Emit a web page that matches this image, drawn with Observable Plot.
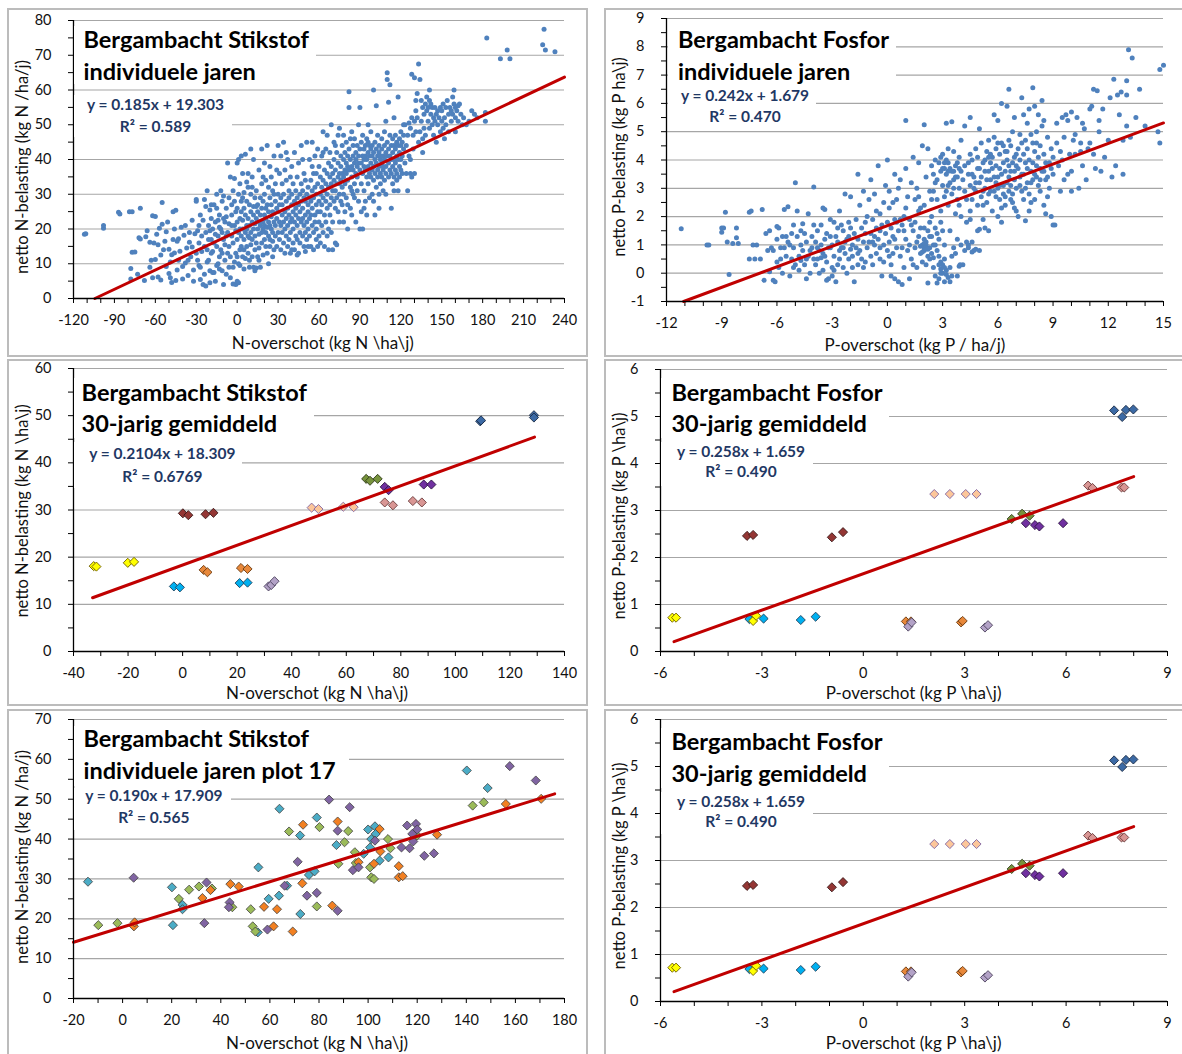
<!DOCTYPE html>
<html><head><meta charset="utf-8">
<script src="https://cdn.jsdelivr.net/npm/d3@7"></script>
<script src="https://cdn.jsdelivr.net/npm/@observablehq/plot@0.6"></script>
<style>
html,body{margin:0;padding:0;background:#fff;}
#page{position:relative;width:1182px;height:1054px;overflow:hidden;font-family:Lato,"Open Sans",sans-serif;}
.panel{position:absolute;box-sizing:border-box;border:2px solid #bcbcbc;background:#fff;}
.chart{position:absolute;}
.wbox{position:absolute;background:#fff;}
.title{position:absolute;font-weight:700;font-size:23.5px;line-height:32px;color:#000;white-space:nowrap;}
.eq{position:absolute;width:240px;text-align:center;font-weight:700;font-size:15.5px;line-height:21.7px;color:#1F3864;white-space:nowrap;}
.xt{position:absolute;width:400px;text-align:center;font-size:17px;line-height:20px;color:#111;white-space:nowrap;}
.yt{position:absolute;width:400px;text-align:center;font-size:16.5px;line-height:20px;color:#111;white-space:nowrap;transform:rotate(-90deg);}
</style></head>
<body><div id="page"></div>
<script>
// ---------------- DATA ----------------
// Panel 1: Bergambacht Stikstof individuele jaren  [N-overschot, netto N-belasting]
const nInd = [
[-112,18.5],[-111,18.6],[-98,20.2],[-98,21],[-87,24.8],[-86,24.3],[-79,25],[-77,25],[-71,26],[-78,8.6],[-77,13.3],[-75,13.4],[-78,5.6],[-73,7],[-72,17.5],[-71,17.1],[-68,5.2],[-64,9],[-63,11],[-62,6],[-64,16.2],[-61,16],[-62,23.8],[-60,23.6],[-59,18.5],[-58,15.5],[-57,20.2],[-56,5.3],[-55,21.4],[-55,27.6],[-56,12.5],[-58,6.2],[-53,16.5],[-52,19.2],[-50,14.2],[-50,7.2],[-49,6],[-48,12.6],[-47,17],[-47,25],[-45,25.4],[-46,20],[-44,8.2],[-46,13.1],[-45,5.2],[-48,4.6],[-52,9.2],[-51,22],[-43,17.2],[-42,13.6],[-41,20.5],[-40,9.2],[-40,5.6],[-38,10.2],[-37,14.5],[-36,6.6],[-35,16.2],[-35,19],[-34,12],[-33,22.5],[-32,8.2],[-31,18.6],[-32,5],[-44,16.5],[-39,18.2],[-36,11],[-33,14.8],[-49,10.5],[-54,14],[-66,19.5],[-60,11.2],[-67,17.8],[-43,11],[-38,21],
[-30,28.5],[-30,28],[-30,13],[-29,11],[-29,19.5],[-28,21],[-28,16],[-27,9],[-27,24],[-26,13.5],[-26,18],[-25,4],[-25,22.5],[-24,7],[-24,15],[-23,19],[-23,3.6],[-23,26.5],[-22,31],[-22,14],[-22,10.5],[-21,21],[-21,11],[-21,17],[-20,25.5],[-20,8],[-20,19.5],[-19,17],[-19,13],[-19,23],[-18,20],[-18,13.5],[-18,7.5],[-17,27],[-17,7.5],[-17,16],[-16,22],[-16,5],[-16,18.5],[-15,30],[-15,15],[-15,9.5],[-14,18],[-14,10],[-14,22.5],[-13,24],[-13,8.5],[-13,20.5],[-12,31],[-12,20],[-12,14],[-11,13],[-11,28],[-11,19],[-10,17],[-10,4],[-10,23],[-9,22],[-9,11],[-9,15.5],[-8,26],[-8,7],[-8,18],[-7,19],[-7,39],[-7,13],[-6,29],[-6,15],[-6,21.5],[-5,35],[-5,12],[-5,6],[-4,24],[-4,18],[-4,27],[-3,9],[-3,31],[-3,16],[-2,21],[-2,28],[-2,10.5],[-1,13],[-1,4],[-1,19.5],[-1,25],[-27,5.5],[-24,28.5],[-20,4.5],[-15,26],[-10,29.5],[-6,9],[-3,4.2],[-2,34.5],[-28,9.5],[-19,27],[-13,12],[-8,23.5],[-11,8],[-4,21],
[0,39],[0,26],[0,17],[0,5],[0,22],[0,12],[1,19],[1,10],[1,40],[1,30],[1,4.5],[2,33],[2,23],[2,20],[2,14],[3,15],[3,28],[3,18],[3,25],[4,36],[4,12],[4,20],[4,22.5],[5,30.5],[5,17],[5,26],[5,8.5],[6,19],[6,24],[6,11.5],[6,41.5],[7,21],[7,28],[7,15],[7,20],[8,13],[8,23],[8,32],[8,18],[9,27],[9,21],[9,11],[9,9],[10,43],[10,19],[10,25],[10,15.5],[10,30],[11,12],[11,22],[11,17],[11,35],[12,20],[12,26.5],[12,9],[12,24],[13,14],[13,18],[13,29],[13,21.5],[14,23],[14,16],[14,8.8],[14,31],[15,20],[15,25],[15,12],[15,27],[16,18.5],[16,22],[16,37],[16,14.5],[17,21],[17,29],[17,9],[17,24],[18,19],[18,16],[18,26],[18,33],[19,22],[19,20],[19,12.5],[19,28],[20,24],[20,17],[20,21],[20,39],[20,30],[21,15],[21,23],[21,26],[21,19],[22,44],[22,27],[22,20.5],[22,13],[23,22],[23,18],[23,32],[23,25],[24,17],[24,21],[24,29],[24,15],[25,23.5],[25,20],[25,35],[25,27],[26,19],[26,25],[26,16.5],[26,31],[27,22],[27,24.5],[27,14],[27,41],[28,28],[28,18],[28,21],[28,33],[29,26],[29,15],[29,23],[29,37],[30,19],[30,25],[30,30],[30,44],[11,32],[14,26.5],[5,14],[8,36],[2,9.5],[16,11],[19,35],[24,38],[27,30],[3,41],[7,33.5],[12,40],[18,43],[21,34],[26,12],[13,8],[4,29],[9,17.5],[23,10],
[31,17],[31,27],[31,22],[31,36],[32,21],[32,29],[32,14],[32,41],[33,24],[33,19],[33,33],[33,27],[34,16],[34,22],[34,30],[34,45],[35,25],[35,20],[35,37],[35,13],[36,28],[36,18],[36,23],[36,34],[37,15],[37,26],[37,21],[37,40],[38,29],[38,24],[38,17],[38,31],[39,22],[39,35],[39,19],[39,13],[40,27],[40,30],[40,23],[40,38],[41,16],[41,25],[41,20],[41,33],[42,28],[42,22],[42,14],[42,42],[43,31],[43,18],[43,26],[43,24],[44,35],[44,21],[44,17],[44,29],[45,23],[45,27],[45,13],[45,39],[46,30],[46,19],[46,25],[46,16],[47,33],[47,22],[47,28],[47,44],[48,26],[48,18],[48,31],[48,23],[49,21],[49,29],[49,36],[49,15],[50,28],[50,24],[50,19],[50,34],[51,30],[51,22],[51,45],[51,17],[52,25],[52,32],[52,27],[52,20],[53,18],[53,29],[53,40],[53,23],[54,34],[54,15],[54,28],[54,24],[55,21],[55,31],[55,45],[55,26],[56,19],[56,36],[56,29],[56,14],[57,24],[57,32],[57,22],[57,41],[58,27],[58,17],[58,30],[58,20],[59,33],[59,25],[59,15],[59,43],[60,22],[60,28],[60,38],[60,18],[36,42],[40,14],[44,12.5],[48,40],[52,15],[55,38],[58,36],[50,13.5],
[61,30],[61,25],[61,35],[61,16],[62,27],[62,41],[62,21],[62,32],[63,34],[63,19],[63,29],[63,48],[64,24],[64,37],[64,31],[64,15],[65,28],[65,33],[65,43],[65,22],[66,36],[66,26],[66,30],[66,47],[67,20],[67,39],[67,32],[67,14],[68,35],[68,27],[68,42],[68,24],[69,29],[69,38],[69,33],[69,50],[70,31],[70,22],[70,36],[70,14],[71,40],[71,28],[71,34],[71,45],[72,26],[72,37],[72,31],[72,16],[73,33],[73,29],[73,42],[73,15.5],[74,35],[74,25],[74,39],[74,47],[75,30],[75,36],[75,22],[75,33],[76,38],[76,28],[76,41],[76,34],[77,32],[77,44],[77,27],[77,36],[78,40],[78,30],[78,35],[78,47],[79,37],[79,25],[79,42],[79,33],[80,39],[80,29],[80,45],[80,36],[81,34],[81,41],[81,27],[81,38],[82,59.5],[82,55],[82,37],[82,43],[83,32],[83,40],[83,46],[83,26],[84,38],[84,35],[84,24],[84,48],[85,41],[85,30],[85,37],[85,44],[86,33],[86,39],[86,29],[86,46],[87,40],[87,36],[87,22],[87,42],[88,38],[88,44],[88,31],[88,35],[89,41],[89,28],[89,39],[89,50],[90,37],[90,43],[90,20],[90,55],[63,42],[66,18],[69,19],[72,44],[75,49],[78,22],[81,20],[84,31],
[91,39],[91,33],[91,45],[91,25],[92,41],[92,36],[92,20],[92,47],[93,38],[93,43],[93,31],[93,40],[94,44],[94,37],[94,28],[94,41],[95,40],[95,35],[95,46],[95,24],[96,42],[96,38],[96,33],[96,45],[97,36],[97,41],[97,29],[97,44],[98,39],[98,43],[98,35],[98,48],[99,41],[99,37],[99,30],[99,44],[100,42],[100,38],[100,60],[100,34],[101,40],[101,45],[101,36],[101,24],[102,43],[102,39],[102,55.5],[102,32],[103,37],[103,41],[103,47],[103,35],[104,42],[104,38],[104,30],[104,44],[105,40],[105,36],[105,41],[105,33],[106,43],[106,39],[106,35],[106,46],[107,37],[107,41],[107,31],[107,38],[108,40],[108,44],[108,34],[108,48],[109,38],[109,42],[109,36],[109,30],[110,65],[110,63],[110,41],[110,45],[111,56.5],[111,39],[111,43],[111,35],[112,61.5],[112,41],[112,37],[112,47],[113,26],[113,44],[113,40],[113,36],[114,42],[114,38],[114,46],[114,33],[115,40],[115,35],[115,44],[115,31],[116,43],[116,39],[116,47],[116,37],[117,41],[117,45],[117,36],[117,34],[118,58],[118,44],[118,40],[118,31],[119,42],[119,38],[119,46],[119,35],[120,44],[120,40],[120,37],[120,48],[96,50],[104,26],[109,51],[115,52],[100,28],[93,26],
[121,41],[121,45],[121,36],[122,43],[122,50],[122,47],[123,50],[123,39],[124,44],[124,36],[125,31],[125,47],[126,50.5],[126,41],[127,49],[127,36],[128,64.5],[128,35],[128,52],[129,47],[129,43],[130,63.5],[130,36],[130,51],[131,48],[131,54],[132,59],[132,52],[133,67.5],[133,45],[134,63],[134,48],[135,51],[135,57],[136,46],[136,55],[137,53],[137,49],[138,56],[138,47],[139,54],[139,58],[140,51],[140,55],[141,57],[141,49],[142,53],[142,56],[143,55],[143,50],[144,52],[144,47],[145,55],[145,51],[146,53],[147,50],[147,54],[148,52],[149,55],[149,48],[150,51],[150,54],[151,56],[151,49],[152,52],[153,55],[153,50],[154,57],[155,53],[155,48],[156,55],[157,51],[157,54],[158,58],[158,53],[159,56],[159,60],[160,55],[160,52],[160,48],[161,54],[162,55.5],[162,51],[163,56],[164,53],[165,50],[166,52],[168,50],[170,51],[172,54],[174,53],[127,40],[131,57],[136,42],[141,60],[146,45],[152,46],
[176,52],[182,51],[182,53.5],[183,75],[193,69],[198,71.5],[200,69],[225,77.5],[224,73],[226,71.5],[233,71]
];

// Panel 2: Bergambacht Fosfor individuele jaren [P-overschot, netto P-belasting]
const pInd = [
[-11.2,1.57],[-9.8,1.0],[-9.7,1.0],[-9.0,1.6],[-9.0,1.45],[-8.9,1.6],[-8.8,2.15],[-8.7,1.1],[-8.6,-0.05],[-8.2,1.6],[-8.2,1.25],[-8.1,1.05],[-8.4,1.05],[-7.5,2.15],[-7.4,2.2],[-7.3,1.0],[-7.1,1.0],[-7.5,0.5],[-7.2,0.5],[-6.9,0.5],[-6.8,2.25],[-6.7,-0.25],[-6.4,1.5],[-6.3,0.9],[-6.2,-0.25],[-6.1,-0.3],[-6.0,0.4],[-5.9,1.6],[-5.8,0.9],[-5.7,1.3],[-5.6,2.25],[-5.4,2.35],[-5.3,1.0],[-5.2,0.5],[-5.1,1.7],[-5.0,3.2],[-4.8,0.6],[-4.7,1.0],[-4.6,1.75],[-4.5,0.3],[-4.4,-0.2],[-4.3,2.1],[-4.2,0.8],[-4.1,1.3],[-4.0,3.05],[-4.0,0.5],
[-6.6,1.4],[-6.5,0.8],[-6.0,1.2],[-5.9,0.2],[-5.6,0.9],[-5.5,0.6],[-5.4,1.1],[-5.2,1.4],[-5.0,0.3],[-4.9,1.3],[-4.8,0.1],[-4.6,0.8],[-4.5,1.4],[-4.3,0.6],[-4.2,0.0],[-4.1,0.9],[-6.2,0.8],[-5.7,0.0],[-5.1,0.9],[-4.7,0.45],[-4.4,1.1],[-6.4,0.05],[-5.3,-0.1],[-4.9,2.2],[-6.0,1.65],
[-5.8,0.5],[-5.5,1.3],[-5.1,0.2],[-4.7,1.5],[-4.4,0.5],[-4.0,1.7],[-3.8,0.9],[-3.4,0.6],[-3.1,1.3],[-2.6,0.8],[-2.3,1.1],[-2.1,1.8],[-1.9,0.2],[-1.6,0.7],[-1.2,1.4],[-0.7,1.3],[-0.4,0.9],[0.1,0.6],[0.4,1.2],[0.7,1.9],
[-3.9,0.3],[-3.9,1.1],[-3.8,1.5],[-3.8,0.5],[-3.7,0.0],[-3.7,0.8],[-3.6,1.0],[-3.6,1.7],[-3.5,0.7],[-3.5,0.1],[-3.4,2.25],[-3.4,1.2],[-3.3,1.4],[-3.3,0.4],[-3.2,-0.2],[-3.2,0.9],[-3.1,0.9],[-3.1,1.9],[-3.0,0.2],[-3.0,1.0],[-3.0,-0.1],[-2.9,1.8],[-2.9,0.6],[-2.8,-0.3],[-2.8,1.3],[-2.7,1.1],[-2.7,0.3],[-2.6,0.5],[-2.6,2.2],[-2.5,1.7],[-2.5,0.9],[-2.4,0.9],[-2.4,1.5],[-2.3,2.8],[-2.3,0.7],[-2.2,0.0],[-2.2,1.2],[-2.1,1.3],[-2.1,0.5],[-2.0,2.7],[-2.0,1.6],[-1.9,0.6],[-1.9,1.0],[-1.8,-0.3],[-1.8,1.4],[-1.7,1.9],[-1.7,0.9],[-1.6,3.5],[-1.6,1.2],[-1.5,0.8],[-1.5,2.4],[-1.4,1.6],[-1.4,0.5],[-1.3,2.9],[-1.3,1.1],[-1.2,0.4],[-1.2,1.8],[-1.1,2.0],[-1.1,0.9],[-1.0,1.1],[-1.0,2.6],[-3.5,2.3],[-2.9,0.1],[-3.3,-0.25],[-2.4,0.2],[-1.6,0.3],[-3.6,0.55],[-2.0,0.85],[-1.3,0.2],[-2.7,1.6],
[-0.9,3.3],[-0.9,1.4],[-0.8,0.3],[-0.8,1.9],[-0.7,1.0],[-0.7,2.8],[-0.6,1.6],[-0.6,0.7],[-0.5,3.8],[-0.5,1.2],[-0.4,2.1],[-0.4,0.5],[-0.3,1.7],[-0.3,-0.1],[-0.2,1.0],[-0.2,2.5],[-0.1,3.1],[-0.1,1.4],[0.0,4.0],[0.0,1.8],[0.0,0.8],[0.1,1.1],[0.1,2.9],[0.2,1.6],[0.2,0.3],[0.3,2.5],[0.3,1.3],[0.4,-0.2],[0.4,1.9],[0.5,0.9],[0.5,2.6],[0.6,1.5],[0.6,-0.3],[0.7,0.6],[0.7,3.3],[0.8,1.7],[0.8,-0.4],[0.9,2.0],[0.9,0.2],[1.0,5.4],[1.0,1.2],[1.0,3.7],[-0.6,2.2],[-0.2,0.4],[0.3,0.7],[0.5,1.8],[0.8,0.9],[-0.9,0.6],[0.1,2.3],[0.6,3.0],[-0.4,1.5],[0.2,-0.1],[0.9,1.5],[0.4,3.5],[-0.8,1.1],
[1.1,0.8],[1.1,2.7],[1.2,1.9],[1.2,-0.2],[1.3,3.2],[1.3,0.5],[1.4,1.5],[1.4,4.1],[1.5,0.9],[1.5,2.6],[1.6,3.0],[1.6,0.2],[1.7,1.3],[1.7,3.9],[1.8,0.7],[1.8,2.3],[1.9,1.0],[1.9,4.5],[2.0,0.8],[2.0,5.25],[2.0,1.2],[2.0,0.9],[2.1,1.1],[2.1,3.4],[2.1,0.3],[2.2,0.6],[2.2,1.5],[2.2,-0.35],[2.3,0.9],[2.3,2.9],[2.3,1.3],[2.4,0.7],[2.4,3.8],[2.4,2.0],[2.5,1.0],[2.5,0.2],[2.5,3.5],[2.6,1.6],[2.6,4.0],[2.6,-0.1],[2.7,0.8],[2.7,2.6],[2.7,3.3],[2.8,1.2],[2.8,3.9],[2.8,-0.2],[2.9,0.4],[2.9,3.6],[2.9,1.8],[3.0,0.0],[3.0,4.2],[3.0,3.1],[3.0,0.3],[3.1,-0.3],[3.1,3.7],[3.1,1.0],[3.2,5.3],[3.2,3.5],[3.2,0.1],[3.2,4.0],[3.3,-0.15],[3.3,2.4],[3.3,3.9],[3.4,0.2],[3.4,3.2],[3.4,1.5],[3.5,5.35],[3.5,3.6],[3.5,-0.1],[3.5,2.8],[3.6,0.9],[3.6,3.3],[3.6,4.3],[3.7,0.7],[3.7,3.8],[3.7,2.1],[3.8,-0.1],[3.8,3.4],[3.8,1.2],[3.9,0.25],[3.9,3.0],[3.9,4.1],[4.0,1.0],[4.0,2.0],[4.0,3.6],[1.5,1.8],[1.9,0.4],[2.3,0.5],[2.6,1.0],[2.9,0.0],[3.1,0.5],[3.4,-0.3],[2.0,2.4],[2.5,2.9],[3.0,3.7],[3.6,3.0],[1.2,1.0],[1.7,2.2],[2.8,0.6],[3.3,4.4],[2.2,4.4],[1.4,0.3],[2.7,-0.35],[3.0,1.5],[3.8,3.9],[2.1,0.9],[2.4,1.3],[1.8,1.6],[3.5,0.6],[3.9,2.4],[1.9,0.75],[2.1,1.0],[2.2,0.85],[2.0,1.05],[1.8,0.95],[2.9,0.15],[3.1,0.2],[3.2,-0.05],[2.8,0.3],[3.3,3.6],[3.1,3.9],
[1.3,1.7],[1.6,1.1],[2.0,1.6],[2.3,1.8],[2.5,0.55],[2.7,1.4],[2.9,2.2],[3.1,2.7],[3.3,3.1],[3.4,3.7],[3.6,3.6],[3.7,3.4],[3.9,3.7],[2.6,3.2],[2.9,4.1],[3.2,2.9],[1.7,2.7],[1.0,2.3],[2.4,2.6],[3.8,2.6],
[4.1,0.3],[4.1,3.3],[4.2,0.8],[4.2,5.2],[4.2,3.8],[4.3,2.6],[4.3,1.8],[4.4,1.0],[4.4,3.5],[4.5,5.5],[4.5,3.1],[4.5,2.2],[4.6,1.1],[4.6,4.0],[4.7,3.4],[4.7,0.8],[4.8,2.9],[4.8,4.4],[4.9,3.7],[4.9,1.5],[5.0,0.8],[5.0,3.2],[5.0,1.55],[5.1,4.6],[5.1,2.7],[5.2,3.9],[5.2,1.9],[5.3,1.6],[5.3,3.0],[5.4,4.3],[5.4,2.5],[5.5,3.6],[5.5,4.7],[5.6,2.9],[5.6,3.3],[5.7,4.1],[5.7,2.2],[5.8,3.4],[5.8,4.8],[5.9,2.7],[5.9,3.8],[6.0,5.4],[6.0,3.0],[6.0,2.0],[6.1,4.2],[6.1,2.6],[6.2,3.5],[6.2,4.6],[6.3,2.8],[6.3,3.9],[6.4,4.3],[6.4,2.4],[6.5,5.9],[6.5,3.2],[6.5,4.0],[6.6,6.5],[6.6,2.9],[6.7,3.6],[6.7,4.5],[6.8,2.5],[6.8,5.0],[6.9,3.3],[6.9,4.1],[7.0,3.8],[7.0,2.2],[7.1,2.0],[7.1,4.4],[7.2,3.1],[7.2,4.9],[7.3,6.2],[7.3,3.5],[7.4,2.6],[7.4,4.2],[7.5,1.85],[7.5,3.9],[7.5,4.7],[7.6,3.2],[7.6,5.3],[7.7,2.8],[7.7,4.0],[7.8,3.6],[7.8,4.9],[7.9,6.55],[7.9,3.3],[8.0,5.9],[8.0,4.3],[8.0,2.6],[8.1,3.8],[8.1,5.0],[8.2,5.6],[8.2,3.1],[8.3,4.5],[8.3,2.9],[8.4,6.1],[8.4,3.6],[8.5,4.2],[8.5,2.4],[8.6,3.3],[8.7,4.8],[8.7,2.7],[8.8,3.9],[8.9,2.0],[8.9,4.4],[9.0,1.7],[9.0,3.5],[4.4,0.9],[4.6,0.75],[4.8,0.85],[4.3,1.1],[3.95,0.3],[5.5,1.5],[6.2,1.8],[4.0,4.7],[5.0,5.1],[5.8,5.6],[6.9,5.5],[7.7,5.8],[8.5,5.4],[6.3,3.1],[6.6,3.4],[7.0,3.0],[7.3,2.9],[7.9,3.9],[8.2,4.1],[5.3,3.6],[5.6,4.2],[6.1,3.7],[6.8,3.9],[7.6,4.4],[4.9,2.4],[5.2,2.9],[6.4,2.7],[7.4,3.5],[8.6,3.9],[4.7,3.0],[5.9,3.2],[6.7,2.6],[7.1,3.7],[8.1,3.4],[5.4,3.3],[6.0,4.6],[6.9,2.3],[7.8,2.5],[8.8,3.0],[4.6,2.6],[5.7,3.7],[6.5,4.3],[7.2,4.0],[8.3,3.7],[6.2,6.0],[7.4,5.6],[8.6,2.1],[9.1,1.7],[4.5,4.2],
[4.2,2.9],[4.4,3.9],[4.6,3.5],[4.8,3.2],[5.0,3.7],[5.1,3.4],[5.3,4.0],[5.5,2.8],[5.6,3.9],[5.8,2.9],[5.9,4.4],[6.0,3.4],[6.1,3.1],[6.3,4.5],[6.4,3.6],[6.6,3.8],[6.7,3.1],[6.9,3.6],[7.0,4.2],[7.2,3.4],[7.3,4.6],[7.5,3.0],[7.6,3.7],[7.8,3.2],[8.0,3.5],[8.1,4.6],[8.3,3.3],[8.5,3.6],[8.7,3.4],[8.9,3.7],[9.0,4.1],[6.2,2.3],[6.8,2.8],[7.7,2.2],[5.2,2.4],[4.5,1.9],[4.9,4.1],[5.5,4.1],[6.6,4.7],[7.9,4.6],[8.4,5.2],
[9.2,5.3],[9.3,3.8],[9.4,4.3],[9.5,5.5],[9.6,3.3],[9.7,5.6],[9.8,5.4],[9.9,4.2],[10.0,5.7],[10.0,3.6],[10.0,2.9],[10.1,4.7],[10.2,4.9],[10.3,5.5],[10.4,3.0],[10.5,4.6],[10.5,4.3],[10.6,3.8],[10.7,5.1],[10.9,4.4],[11.0,5.8],[11.1,5.9],[11.2,6.5],[11.4,6.45],[11.5,5.4],[11.2,4.2],[11.3,3.7],[11.5,5.0],[11.6,3.6],[11.8,4.1],[12.0,4.7],[12.1,6.2],[12.3,6.85],[12.5,6.3],[12.2,3.4],[12.4,3.8],[12.7,6.4],[13.0,6.8],[13.0,6.3],[13.0,5.2],[13.1,7.9],[13.3,7.6],[13.2,4.8],[12.8,4.7],[12.8,3.5],[13.7,6.5],[14.0,5.2],[14.7,5.0],[14.8,4.6],[14.8,7.2],[15.0,7.35],[9.6,4.8],[10.8,3.3],[9.4,2.9],
[9.2,4.6],[9.5,4.0],[9.8,3.5],[10.2,4.2],[10.6,5.3],[11.0,4.6],[11.7,5.8],[12.6,5.6],[13.5,5.5]
];

// Panel 3: Stikstof 30-jarig gemiddeld [x, y, groep]
const n30 = [
[-3.2,13.8,"b"],[-1.0,13.6,"b"],[20.9,14.5,"b"],[23.8,14.6,"b"],
[-32.6,18.1,"a"],[-31.6,18.0,"a"],[-20.1,18.8,"a"],[-17.8,19.0,"a"],
[0.1,29.3,"c"],[2.1,28.9,"c"],[8.4,29.1,"c"],[11.3,29.4,"c"],
[7.7,17.3,"d"],[9.1,16.8,"d"],[21.4,17.7,"d"],[23.8,17.5,"d"],
[31.5,13.8,"e"],[32.5,14.1,"e"],[33.7,14.9,"e"],
[47.3,30.5,"f"],[49.8,30.2,"f"],[58.9,30.7,"f"],[62.7,30.6,"f"],
[67.3,36.6,"g"],[68.7,36.2,"g"],[71.5,36.6,"g"],
[74.1,31.6,"i"],[77.1,31.0,"i"],[84.4,31.9,"i"],[87.7,31.6,"i"],
[74.1,34.9,"h"],[75.5,34.2,"h"],[88.4,35.4,"h"],[91.2,35.4,"h"],
[109.1,48.8,"j"],[109.4,49.0,"j"],[128.8,50.1,"j"],[128.8,49.6,"j"]
];

// Panels 4 and 6: Fosfor 30-jarig gemiddeld [x, y, groep]
const p30 = [
[-3.37,0.69,"b"],[-2.95,0.70,"b"],[-1.85,0.67,"b"],[-1.41,0.74,"b"],
[-5.65,0.72,"a"],[-5.54,0.72,"a"],[-3.26,0.65,"a"],[-3.17,0.76,"a"],
[-3.44,2.46,"c"],[-3.26,2.48,"c"],[-0.93,2.43,"c"],[-0.60,2.54,"c"],
[1.26,0.64,"d"],[1.41,0.64,"d"],[2.89,0.62,"d"],[2.94,0.65,"d"],
[1.33,0.53,"e"],[1.43,0.62,"e"],[3.60,0.51,"e"],[3.69,0.56,"e"],
[2.10,3.35,"f"],[2.56,3.35,"f"],[3.03,3.35,"f"],[3.35,3.35,"f"],
[4.39,2.82,"g"],[4.70,2.93,"g"],[4.92,2.89,"g"],
[4.81,2.73,"h"],[5.08,2.69,"h"],[5.21,2.66,"h"],[5.91,2.73,"h"],
[6.65,3.53,"i"],[6.78,3.48,"i"],[7.64,3.49,"i"],[7.72,3.49,"i"],
[7.42,5.13,"j"],[7.66,4.99,"j"],[7.77,5.14,"j"],[7.99,5.15,"j"]
];

// Panel 5: Stikstof individuele jaren plot 17 [x, y, reeks]
const n17 = [
[-14.1,29.3,"t"],[20.1,27.9,"t"],[20.5,18.4,"t"],[24.4,23.5,"t"],[24.4,22.4,"t"],[55.1,16.6,"t"],[55.3,32.9,"t"],[59.5,25.0,"t"],[63.7,25.8,"t"],[63.9,47.6,"t"],[67.0,28.3,"t"],[72.3,40.9,"t"],[72.4,21.2,"t"],[75.9,31.0,"t"],[78.2,31.9,"t"],[79.1,45.4,"t"],[87.1,38.5,"t"],[98.2,36.3,"t"],[100.0,42.4,"t"],[101.3,40.0,"t"],[102.8,43.2,"t"],[103.1,41.3,"t"],[104.7,34.6,"t"],[108.3,35.4,"t"],[140.2,57.2,"t"],[148.7,52.8,"t"],[100.8,37.9,"t"],
[-9.9,18.4,"g"],[-2.1,18.9,"g"],[22.9,25.0,"g"],[27.1,27.3,"g"],[31.1,28.1,"g"],[36.4,27.6,"g"],[44.7,22.9,"g"],[52.2,22.4,"g"],[53.0,18.1,"g"],[54.1,16.8,"g"],[67.8,41.9,"g"],[80.2,43.0,"g"],[79.1,23.1,"g"],[87.9,33.8,"g"],[90.4,39.2,"g"],[91.9,42.0,"g"],[94.6,36.7,"g"],[95.0,34.0,"g"],[100.8,32.9,"g"],[101.3,30.4,"g"],[102.4,30.0,"g"],[108.1,40.0,"g"],[109.1,37.7,"g"],[120.0,40.9,"g"],[142.6,48.4,"g"],[147.1,49.2,"g"],
[4.6,18.1,"o"],[4.9,19.1,"o"],[32.5,25.2,"o"],[35.8,27.2,"o"],[43.9,28.7,"o"],[47.3,28.1,"o"],[57.6,23.0,"o"],[61.5,18.1,"o"],[62.9,22.4,"o"],[69.3,16.8,"o"],[73.2,28.9,"o"],[73.5,43.6,"o"],[85.4,23.3,"o"],[87.6,44.4,"o"],[96.1,34.2,"o"],[102.4,33.8,"o"],[104.7,42.5,"o"],[105.0,36.9,"o"],[112.5,33.2,"o"],[112.5,30.4,"o"],[114.1,30.7,"o"],[128.1,41.1,"o"],[156.1,48.8,"o"],[170.5,50.1,"o"],
[4.5,30.3,"p"],[33.3,18.9,"p"],[34.2,29.1,"p"],[43.6,24.1,"p"],[43.3,22.9,"p"],[59.0,17.3,"p"],[66.0,28.3,"p"],[71.3,34.3,"p"],[75.1,25.8,"p"],[79.1,26.5,"p"],[84.1,49.9,"p"],[87.6,42.1,"p"],[87.6,22.0,"p"],[92.5,48.0,"p"],[93.8,32.2,"p"],[96.1,32.9,"p"],[102.8,39.6,"p"],[113.6,37.9,"p"],[115.9,43.4,"p"],[116.9,37.7,"p"],[118.0,41.3,"p"],[119.5,43.8,"p"],[120.0,42.4,"p"],[118.4,39.4,"p"],[122.9,35.8,"p"],[126.8,36.4,"p"],[157.7,58.3,"p"],[168.3,54.7,"p"]
];

// Trendlines (end points of the Excel trendline)
const trendNInd = [[-104.3,0],[240,63.7]];
const trendPInd = [[-11.07,-1],[15,5.31]];
const trendN30 = [[-33,11.4],[129,45.45]];
const trendP30 = [[-5.6,0.21],[8.0,3.72]];
const trendN17 = [[-20,14.1],[176,51.35]];

// Tick labels
const nIndXLabels = [-120,-90,-60,-30,0,30,60,90,120,150,180,210,240];
const nIndYLabels = [0,10,20,30,40,50,60,70,80];
const pIndXLabels = [-12,-9,-6,-3,0,3,6,9,12,15];
const pIndYLabels = [-1,0,1,2,3,4,5,6,7,8,9];
const n30XLabels = [-40,-20,0,20,40,60,80,100,120,140];
const n30YLabels = [0,10,20,30,40,50,60];
const p30XLabels = [-6,-3,0,3,6,9];
const p30YLabels = [0,1,2,3,4,5,6];
const n17XLabels = [-20,0,20,40,60,80,100,120,140,160,180];
const n17YLabels = [0,10,20,30,40,50,60,70];

// Texts
const titles = [
 ["Bergambacht Stikstof","individuele jaren"],
 ["Bergambacht Fosfor","individuele jaren"],
 ["Bergambacht Stikstof","30-jarig gemiddeld"],
 ["Bergambacht Fosfor","30-jarig gemiddeld"],
 ["Bergambacht Stikstof","individuele jaren plot 17"],
 ["Bergambacht Fosfor","30-jarig gemiddeld"]
];
const equations = [
 ["y = 0.185x + 19.303","R² = 0.589"],
 ["y = 0.242x + 1.679","R² = 0.470"],
 ["y = 0.2104x + 18.309","R² = 0.6769"],
 ["y = 0.258x + 1.659","R² = 0.490"],
 ["y = 0.190x + 17.909","R² = 0.565"],
 ["y = 0.258x + 1.659","R² = 0.490"]
];
const xTitles = ["N-overschot (kg N \\ha\\j)","P-overschot (kg P / ha/j)","N-overschot (kg N \\ha\\j)","P-overschot (kg P \\ha\\j)","N-overschot (kg N \\ha\\j)","P-overschot (kg P \\ha\\j)"];
const yTitles = ["netto N-belasting (kg N /ha/j)","netto P-belasting (kg P ha\\j)","netto N-belasting (kg N \\ha\\j)","netto P-belasting (kg P \\ha\\j)","netto N-belasting (kg N /ha/j)","netto P-belasting (kg P \\ha\\j)"];

// ---------------- STYLE / LAYOUT ----------------
const groupFill = {a:"#FFFF00",b:"#00B0F0",c:"#943634",d:"#E8883A",e:"#B3A2C7",f:"#FCC69A",g:"#77933C",h:"#7030A0",i:"#D99694",j:"#3C6AA5"};
const groupStroke = {a:"#6b5a00",b:"#1f3f5a",c:"#3a1a1a",d:"#6a3a10",e:"#4a3f5a",f:"#8064A2",g:"#2f3a18",h:"#2a1040",i:"#6a3a3a",j:"#1a2a44"};
const seriesFill17 = {t:"#4BACC6",g:"#9BBB59",o:"#F28022",p:"#8064A2"};

const layout = [
 {box:[7,8,581,349], xr:[73,564], yr:[298,20], xd:[-120,240], yd:[0,80], xl:nIndXLabels, yl:nIndYLabels, xm:10, ym:5,
  kind:"blue", data:nInd, trend:trendNInd,
  tbox:[74,26,242,58], ebox:[74,95,158,42], tpos:[83.5,39,71], epos:[155.5,105,126.7], xt:[322.8,343.3], yt:[21.5,166.7]},
 {box:[604,8,580,349], xr:[666,1163], yr:[301,18], xd:[-12,15], yd:[-1,9], xl:pIndXLabels, yl:pIndYLabels, xm:1, ym:0.5,
  kind:"blue", data:pInd, trend:trendPInd,
  tbox:[668,26,228,62], ebox:[668,90,148,36], tpos:[678,39,71], epos:[745,95.7,117], xt:[915,345], yt:[619,156.7]},
 {box:[7,359,581,347], xr:[73,564], yr:[651,368], xd:[-40,140], yd:[0,60], xl:n30XLabels, yl:n30YLabels, xm:10, ym:5,
  kind:"group", data:n30, trend:trendN30,
  tbox:[74,378,240,60], ebox:[74,442,168,46], tpos:[81.6,391.7,423.3], epos:[162.4,454.3,476.7], xt:[317,693.3], yt:[21.5,510.8]},
 {box:[604,359,580,347], xr:[660,1167], yr:[651,369], xd:[-6,9], yd:[0,6], xl:p30XLabels, yl:p30YLabels, xm:1, ym:0.5,
  kind:"group", data:p30, trend:trendP30,
  tbox:[661,378,228,60], ebox:[661,442,152,44], tpos:[671.4,391.7,423.3], epos:[741,451.7,472.3], xt:[913.6,693.3], yt:[619,515.8]},
 {box:[7,709,581,352], xr:[73,564], yr:[998,719], xd:[-20,180], yd:[0,70], xl:n17XLabels, yl:n17YLabels, xm:10, ym:5,
  kind:"series", data:n17, trend:trendN17,
  tbox:[74,726,275,60], ebox:[74,788,157,42], tpos:[83.5,738.3,770], epos:[153.8,795.7,817.7], xt:[317,1043.3], yt:[21.5,857]},
 {box:[604,709,580,352], xr:[660,1167], yr:[1001,719], xd:[-6,9], yd:[0,6], xl:p30XLabels, yl:p30YLabels, xm:1, ym:0.5,
  kind:"group", data:p30, trend:trendP30,
  tbox:[661,728,228,60], ebox:[661,792,152,42], tpos:[671.4,741,773], epos:[741,801.7,822.3], xt:[913.6,1043.3], yt:[619,865.8]}
];

const page = document.getElementById("page");
function el(cls, l, t, w, h, txt) {
  const d = document.createElement("div");
  d.className = cls;
  d.style.left = l + "px"; d.style.top = t + "px";
  if (w != null) d.style.width = w + "px";
  if (h != null) d.style.height = h + "px";
  if (txt != null) d.textContent = txt;
  page.appendChild(d);
  return d;
}
const fmt = d => String(d);

layout.forEach((L, i) => {
  const [sx, sy, sw, sh] = L.box;
  el("panel", sx, sy, sw, sh);
  const ml = L.xr[0] - sx, mr = sx + sw - L.xr[1], mt = L.yr[1] - sy, mb = sy + sh - L.yr[0];
  const xMinor = d3.range(L.xd[0], L.xd[1] + L.xm / 2, L.xm);
  const yMinor = d3.range(L.yd[0], L.yd[1] + L.ym / 2, L.ym);
  const grid = L.yl.slice(1);
  const marks = [
    Plot.ruleY(grid, {y: d => d, stroke: "#a6a6a6", strokeWidth: 1.2}),
    Plot.axisX(xMinor, {anchor: "bottom", tickSize: 5, tickFormat: () => "", label: null, color: "#000"}),
    Plot.axisX(L.xl, {anchor: "bottom", tickSize: 0, tickPadding: 16, tickFormat: fmt, label: null, color: "#111"}),
    Plot.axisY(yMinor, {anchor: "left", tickSize: 5, tickFormat: () => "", label: null, color: "#000"}),
    Plot.axisY(L.yl, {anchor: "left", tickSize: 0, tickPadding: 22, tickFormat: fmt, label: null, color: "#111"})
  ];
  if (L.kind === "blue") {
    marks.push(Plot.dot(L.data, {x: d => d[0], y: d => d[1], r: 2.5, fill: "#4F81BD", stroke: "none"}));
  } else if (L.kind === "group") {
    for (const g of ["b","a","c","d","e","f","g","i","h","j"]) {
      marks.push(Plot.dot(L.data.filter(d => d[2] === g), {x: d => d[0], y: d => d[1], symbol: "diamond2", r: 4.1, fill: groupFill[g], stroke: groupStroke[g], strokeWidth: 0.9}));
    }
  } else {
    for (const s of ["t","g","o","p"]) {
      marks.push(Plot.dot(L.data.filter(d => d[2] === s), {x: d => d[0], y: d => d[1], symbol: "diamond2", r: 4.1, fill: seriesFill17[s], stroke: "#404040", strokeWidth: 0.8}));
    }
  }
  marks.push(Plot.line(L.trend, {x: d => d[0], y: d => d[1], stroke: "#C00000", strokeWidth: 3}));
  marks.push(Plot.ruleX([L.xd[0]], {x: d => d, stroke: "#000", strokeWidth: 1.3}));
  marks.push(Plot.ruleY([L.yd[0]], {y: d => d, stroke: "#000", strokeWidth: 1.3}));

  const chart = Plot.plot({
    width: sw, height: sh,
    marginLeft: ml, marginRight: mr, marginTop: mt, marginBottom: mb,
    x: {domain: L.xd}, y: {domain: L.yd},
    style: {fontFamily: "Lato, 'Open Sans', sans-serif", fontSize: "14.5px", background: "transparent", overflow: "visible"},
    marks
  });
  chart.classList.add("chart");
  chart.style.left = sx + "px"; chart.style.top = sy + "px";
  page.appendChild(chart);

  // white label boxes (cover gridlines like in the original)
  el("wbox", L.tbox[0], L.tbox[1], L.tbox[2], L.tbox[3]);
  el("wbox", L.ebox[0], L.ebox[1], L.ebox[2], L.ebox[3]);
  // titles
  el("title", L.tpos[0], L.tpos[1] - 16, null, null, titles[i][0]);
  el("title", L.tpos[0], L.tpos[2] - 16, null, null, titles[i][1]);
  // equation
  el("eq", L.epos[0] - 120, L.epos[1] - 10.85, null, null, equations[i][0]);
  el("eq", L.epos[0] - 120, L.epos[2] - 10.85, null, null, equations[i][1]);
  // axis titles
  el("xt", L.xt[0] - 200, L.xt[1] - 10, null, null, xTitles[i]);
  el("yt", L.yt[0] - 200, L.yt[1] - 10, null, null, yTitles[i]);
});
</script></body></html>
